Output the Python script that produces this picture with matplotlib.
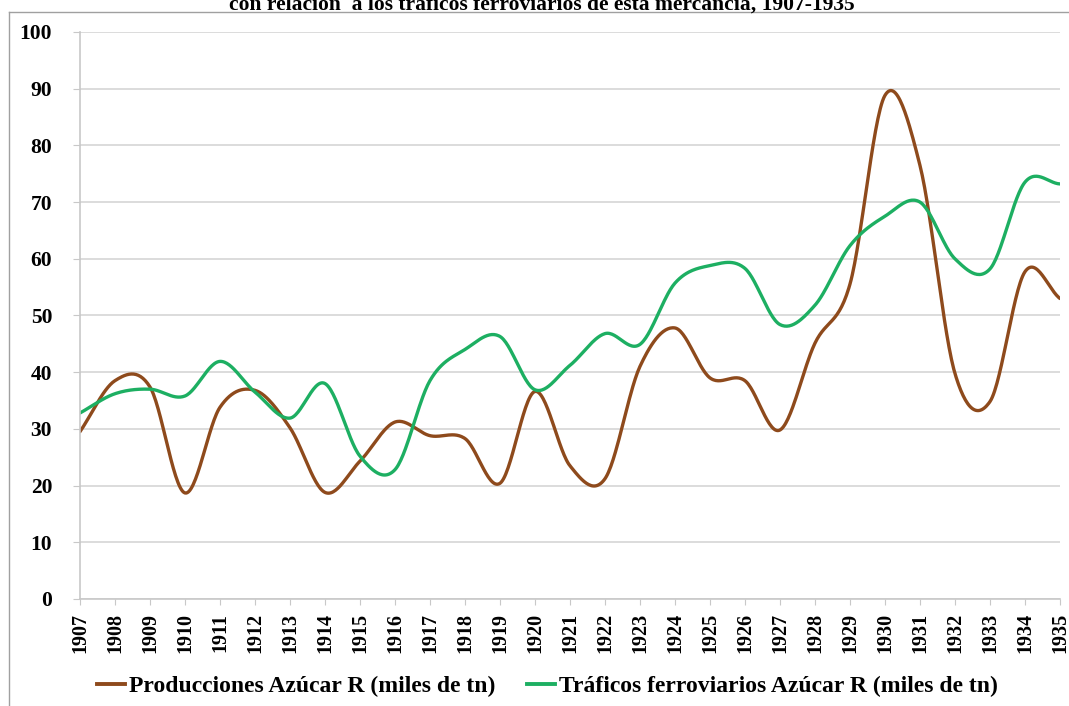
import matplotlib
matplotlib.use("Agg")
import matplotlib.pyplot as plt
from matplotlib.lines import Line2D
import numpy as np


YEARS = list(range(1907, 1936))
PRODUCCIONES = [29.5, 38.5, 37.4, 18.7, 33.8, 36.8, 30.2, 18.8, 24.3, 31.2, 28.8, 28.3,
                20.4, 36.6, 23.5, 21.2, 41.0, 47.8, 39.0, 38.5, 29.8, 45.1, 55.5, 88.8,
                76.5, 39.8, 34.8, 57.7, 53.0]
TRAFICOS = [32.8, 36.2, 37.0, 35.8, 41.9, 36.5, 31.9, 38.0, 25.2, 22.8, 38.5, 44.0,
            46.3, 36.9, 41.2, 46.8, 44.9, 55.7, 58.8, 58.3, 48.4, 51.8, 62.3, 67.5,
            70.0, 60.0, 58.2, 73.5, 73.2]
LABEL_PROD = "Producciones Azúcar R (miles de tn)"
LABEL_TRAF = "Tráficos ferroviarios Azúcar R (miles de tn)"
TITLE = "con relación  a los tráficos ferroviarios de esta mercancía, 1907-1935"

BROWN = "#8E4A1C"
GREEN = "#1DAF62"
FONT = ["Liberation Serif", "DejaVu Serif"]


def smooth(x, y, steps=30):
    # Catmull-Rom style curve through every point, like Excel's smoothed line
    x = np.asarray(x, dtype=float)
    y = np.asarray(y, dtype=float)
    px = np.concatenate([[2 * x[0] - x[1]], x, [2 * x[-1] - x[-2]]])
    py = np.concatenate([[2 * y[0] - y[1]], y, [2 * y[-1] - y[-2]]])
    out_x, out_y = [], []
    t = np.linspace(0, 1, steps, endpoint=False)
    for i in range(1, len(px) - 2):
        for pts, res in (((px[i - 1], px[i], px[i + 1], px[i + 2]), out_x),
                         ((py[i - 1], py[i], py[i + 1], py[i + 2]), out_y)):
            a, b, c, d = pts
            res.extend(0.5 * (2 * b + (-a + c) * t + (2 * a - 5 * b + 4 * c - d) * t ** 2
                              + (-a + 3 * b - 3 * c + d) * t ** 3))
    out_x.append(x[-1])
    out_y.append(y[-1])
    return np.array(out_x), np.array(out_y)


plt.rcParams["font.family"] = FONT
plt.rcParams["font.weight"] = "bold"

fig = plt.figure(figsize=(10.69, 7.06), dpi=100, facecolor="white")
ax = fig.add_axes([0.0748, 0.1516, 0.9167, 0.8031])

for values, color in [(PRODUCCIONES, BROWN), (TRAFICOS, GREEN)]:
    sx, sy = smooth(YEARS, values)
    ax.plot(sx, sy, color=color, linewidth=2.4, solid_capstyle="round")

ax.set_xlim(YEARS[0], YEARS[-1])
ax.set_ylim(0, 100)
ax.set_yticks(range(0, 101, 10))
ax.set_xticks(YEARS)
ax.set_xticklabels([str(y) for y in YEARS], rotation=90, fontsize=14.5, fontweight="bold")
ax.tick_params(axis="y", labelsize=15.5, length=5, color="#C8C8C8", pad=15)
ax.tick_params(axis="x", length=4, color="#C8C8C8", pad=6)
for label in ax.get_yticklabels():
    label.set_fontweight("bold")
ax.grid(axis="y", color="#D6D6D6", linewidth=1.2)
ax.set_axisbelow(True)
for side in ["top", "right"]:
    ax.spines[side].set_visible(False)
for side in ["left", "bottom"]:
    ax.spines[side].set_color("#C8C8C8")
    ax.spines[side].set_linewidth(1.2)

handles = [
    Line2D([0], [0], color=BROWN, linewidth=2.8),
    Line2D([0], [0], color=GREEN, linewidth=2.8),
]
fig.legend(handles, [LABEL_PROD, LABEL_TRAF], loc="center", bbox_to_anchor=(0.512, 0.028),
           ncol=2, frameon=False, handlelength=1.2, handletextpad=0.15, columnspacing=1.35,
           borderpad=0, prop={"family": FONT, "weight": "bold", "size": 17})

# the reference crops the top of this title line
fig.text(0.507, 1 - 9.5 / 706, TITLE, ha="center", va="baseline", fontsize=15.5,
         fontweight="bold", family=FONT)
# outer frame of the original figure (top and left edges)
fig.add_artist(Line2D([0.008, 0.008], [0, 1 - 12 / 706], transform=fig.transFigure,
                      color="#A0A0A0", linewidth=1.0))
fig.add_artist(Line2D([0.008, 1.0], [1 - 12 / 706, 1 - 12 / 706], transform=fig.transFigure,
                      color="#A0A0A0", linewidth=1.0))

fig.savefig("out.png", dpi=100, facecolor="white")
